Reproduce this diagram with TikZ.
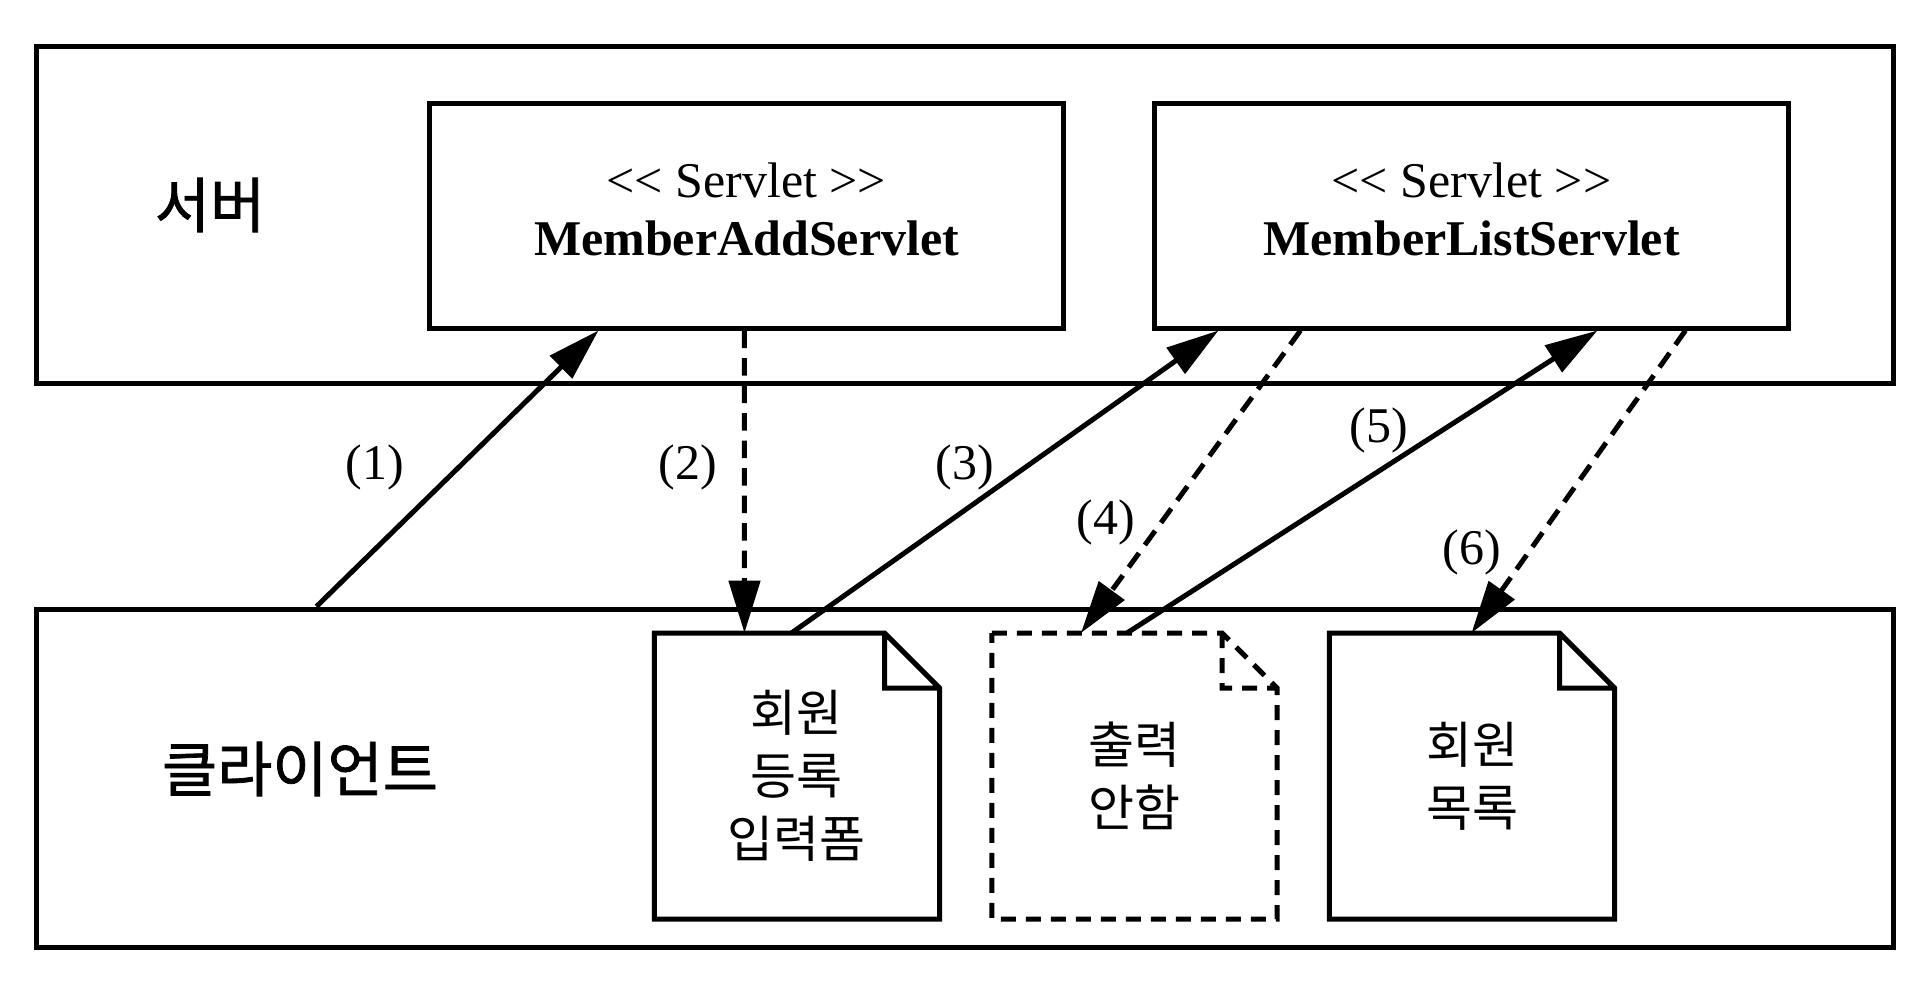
\documentclass[tikz,border=0pt]{standalone}
\usepackage{fontspec}
\setmainfont{Liberation Serif}
\newfontfamily\kr{Noto Sans CJK KR}
\newfontfamily\krmid{Noto Sans CJK KR}[FakeBold=1.2]
\usetikzlibrary{
  arrows.meta,
  positioning,
  calc,
}

\begin{document}
\begin{tikzpicture}[
  x=0.2pt, y=-0.2pt,
  line width=1pt,
  every node/.style={align=center, inner sep=0pt},
  frame/.style={draw, rectangle, minimum width=371.2pt},
  servlet/.style={draw, rectangle, minimum width=126.6pt, minimum height=45pt,
                  text depth=2.6pt, font=\fontsize{10}{11.6}\selectfont},
  page/.style={rectangle, minimum width=56pt, minimum height=56.2pt,
               font=\kr\fontsize{10}{12.6}\selectfont},
  side/.style={font=\krmid\fontsize{12}{14}\selectfont},
  num/.style={font=\fontsize{10}{12}\selectfont},
  paperline/.style={solid},
  paperdash/.style={dash pattern=on 3pt off 2pt},
  req/.style={-{Triangle[length=10.5pt,width=6.2pt]}},
  resp/.style={req, dash pattern=on 3.5pt off 2pt},
]

\useasboundingbox (0,0) rectangle (1926,988);

% tiers
\node[frame, minimum height=67.4pt] (server) at (965,214.5) {};
\node[frame, minimum height=67.6pt] (client) at (965,778) {};
\node[side] (srvname) at (210,205) {서버};
\node[side] (cliname) at (300,769) {클라이언트};

% servlets
\node[servlet] (addsv) at (746.5,215.5)
  {<\kern0pt< Servlet >\kern0pt>\\\textbf{MemberAddServlet}};
\node[servlet] (listsv) at (1471.5,215.5)
  {<\kern0pt< Servlet >\kern0pt>\\\textbf{MemberListServlet}};

% pages on the client
\node[page] (formdoc) at (797,776) {회원\\등록\\입력폼};
\node[page] (nodoc) at (1134.5,776) {출력\\안함};
\node[page] (listdoc) at (1472,776) {회원\\목록};

\foreach \d/\s in {formdoc/paperline, nodoc/paperdash, listdoc/paperline}
  \draw[\s] (\d.north west) -- ([xshift=-11pt]\d.north east)
    -- ([yshift=-11pt]\d.north east) -- (\d.south east)
    -- (\d.south west) -- cycle
    ([xshift=-11pt]\d.north east) |- ([yshift=-11pt]\d.north east);

% requests and responses
\draw[req] ($(client.north west)+(282,0)$) -- ($(addsv.south west)+(171,0)$);
\draw[resp] ($(addsv.south west)+(317,0)$) -- ($(formdoc.north west)+(90,0)$);
\draw[req] ($(formdoc.north west)+(137,0)$) -- ($(listsv.south west)+(66,0)$);
\draw[resp] ($(listsv.south west)+(148,0)$) -- ($(nodoc.north west)+(89,0)$);
\draw[req] ($(nodoc.north west)+(135,0)$) -- ($(listsv.south west)+(445,0)$);
\draw[resp] ($(listsv.south west)+(533,0)$) -- ($(listdoc.north west)+(142,0)$);

\node[num] (n1) at (375,467) {(1)};
\node[num] (n2) at (688,467) {(2)};
\node[num] (n3) at (965,467) {(3)};
\node[num] (n4) at (1106,522) {(4)};
\node[num] (n5) at (1379,430) {(5)};
\node[num] (n6) at (1472,552) {(6)};

\end{tikzpicture}
\end{document}
